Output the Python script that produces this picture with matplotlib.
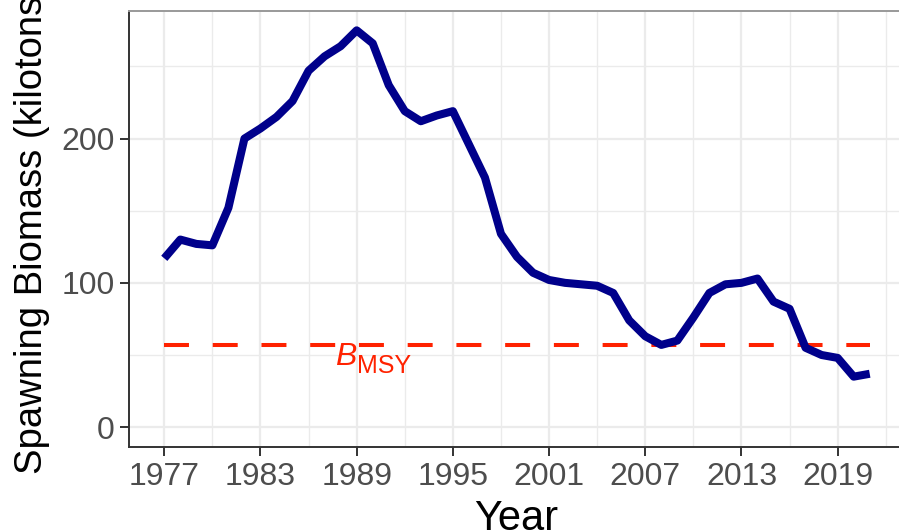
import numpy as np
import matplotlib
matplotlib.use('Agg')
import matplotlib.pyplot as plt
from matplotlib.ticker import MultipleLocator, FixedLocator

# data
years = list(range(1977, 2022))
biomass = [117, 130, 127, 126, 152, 200, 207, 215, 226, 247,
           257, 264, 275, 266, 237, 219, 212, 216, 219, 196,
           173, 134, 118, 107, 102, 100, 99, 98, 93, 74,
           63, 57, 60, 76, 93, 99, 100, 103, 87, 82,
           55, 50, 48, 35, 37]
b_msy = 57
x_ticks = [1977, 1983, 1989, 1995, 2001, 2007, 2013, 2019]
y_ticks = [0, 100, 200]

plt.rcParams['font.family'] = ['Liberation Sans', 'DejaVu Sans']

W, H = 899, 531
fig = plt.figure(figsize=(W / 100, H / 100), dpi=100)
# panel runs past the right edge, like the cropped original
left, right, top, bottom = 129, 905, 10.5, 447
ax = fig.add_axes([left / W, (H - bottom) / H, (right - left) / W, (bottom - top) / H])

ax.set_xlim(1974.8, 2023.2)
ax.set_ylim(-13.75, 288.75)

ax.xaxis.set_major_locator(FixedLocator(x_ticks))
ax.xaxis.set_minor_locator(FixedLocator([t + 3 for t in x_ticks]))
ax.yaxis.set_major_locator(FixedLocator(y_ticks))
ax.yaxis.set_minor_locator(MultipleLocator(50))
ax.grid(which='major', color='#EBEBEB', lw=1.6)
ax.grid(which='minor', color='#EBEBEB', lw=1.0)
ax.set_axisbelow(True)

ax.tick_params(which='major', length=6.5, width=1.4, color='#333333',
               labelsize=23, labelcolor='#4D4D4D', pad=4)
ax.tick_params(which='minor', length=0)
for s in ['left', 'bottom']:
    ax.spines[s].set_color('#333333')
    ax.spines[s].set_linewidth(1.4)
for s in ['top', 'right']:
    ax.spines[s].set_color('#999999')
    ax.spines[s].set_linewidth(1.4)

ax.plot(years, [b_msy] * len(years), color='#FF2200', lw=2.9,
        dashes=(6.2, 5.9), solid_capstyle='butt', dash_capstyle='butt')
ax.plot(years, biomass, color='#00008B', lw=5.8,
        solid_joinstyle='round', solid_capstyle='butt')

# B_MSY label: italic B with a subscript
ax.text(1989.0, 43, 'B', color='#FF2200', fontsize=23, style='italic',
        ha='right', va='baseline')
ax.text(1989.0, 37.5, 'MSY', color='#FF2200', fontsize=18,
        ha='left', va='baseline')

fig.text(516 / W, (H - 530) / H, 'Year', fontsize=30, ha='center', va='baseline')
fig.text(32 / W, (H - 474) / H, 'Spawning Biomass (kilotons)', fontsize=27.5,
         rotation=90, ha='center', va='bottom')

fig.savefig('out.png', dpi=100)
